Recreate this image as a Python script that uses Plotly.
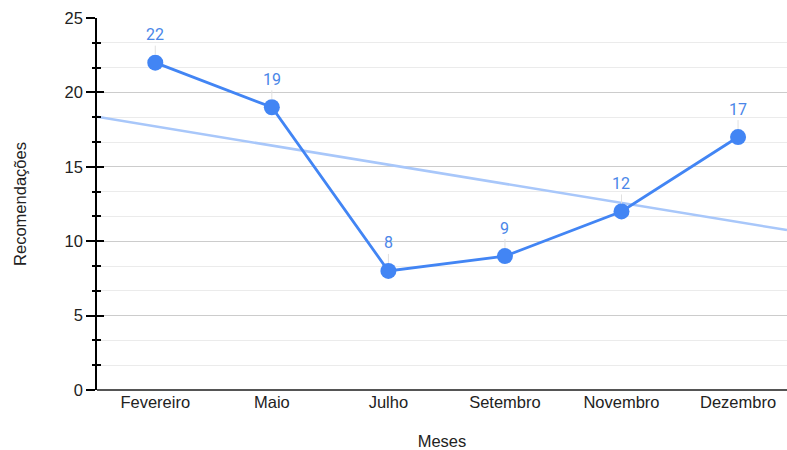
import numpy as np
import plotly.graph_objects as go

months = ["Fevereiro", "Maio", "Julho", "Setembro", "Novembro", "Dezembro"]
values = [22, 19, 8, 9, 12, 17]

xs = list(range(len(months)))
slope, intercept = np.polyfit(xs, values, 1)
x_lo, x_hi = -0.5, 5.42
trend_x = [x_lo, x_hi]
trend_y = [intercept + slope * v for v in trend_x]

BLUE = "#4285F4"
fig = go.Figure()
fig.add_trace(go.Scatter(x=trend_x, y=trend_y, mode="lines",
                         line=dict(color="#A8C7FA", width=2.5),
                         hoverinfo="skip", showlegend=False))
fig.add_trace(go.Scatter(x=xs, y=values, mode="lines+markers",
                         line=dict(color=BLUE, width=2.8),
                         marker=dict(color=BLUE, size=16),
                         showlegend=False))
# overlay axis only for inner tick halves
fig.add_trace(go.Scatter(x=[0], y=[0], yaxis="y2", mode="markers",
                         marker=dict(opacity=0), hoverinfo="skip", showlegend=False))

for x, v in zip(xs, values):
    fig.add_annotation(x=x, y=v, text=str(v), showarrow=True, arrowhead=0,
                       arrowwidth=1, arrowcolor="#E0E0E0", ax=0, ay=-28,
                       standoff=8, yanchor="middle",
                       font=dict(family="Roboto", size=16, color="#4A86E8"))

fig.update_layout(
    width=787, height=450,
    margin=dict(l=97, r=0, t=18, b=60),
    plot_bgcolor="white", paper_bgcolor="white",
    font=dict(family="Liberation Sans, Arial", size=16.5, color="#222222"),
    xaxis=dict(range=[x_lo, x_hi], tickmode="array", tickvals=xs, ticktext=months,
               showgrid=False, zeroline=False, showline=False, ticks="",
               automargin=False,
               title=dict(text="Meses", font=dict(size=16.5), standoff=27)),
    yaxis=dict(range=[0, 25], dtick=5, showline=True, linecolor="black", linewidth=1.5,
               ticks="outside", ticklen=9, tickcolor="black", tickwidth=1.5,
               gridcolor="#CCCCCC", gridwidth=1, zeroline=True, zerolinecolor="#555555",
               zerolinewidth=1.5, automargin=False,
               minor=dict(dtick=5/3, showgrid=True, gridcolor="#EBEBEB", ticks="outside",
                          ticklen=3, tickcolor="black", tickwidth=1.5),
               title=dict(text="Recomendações", font=dict(size=16.5), standoff=34)),
    yaxis2=dict(range=[0, 25], overlaying="y", side="left", dtick=5, showgrid=False,
                showticklabels=False, ticks="inside", ticklen=7, tickcolor="black",
                tickwidth=1.5, zeroline=False, showline=False,
                minor=dict(dtick=5/3, ticks="inside", ticklen=4, tickcolor="black",
                           tickwidth=1.5, showgrid=False)),
)
fig.write_html("out.html")
